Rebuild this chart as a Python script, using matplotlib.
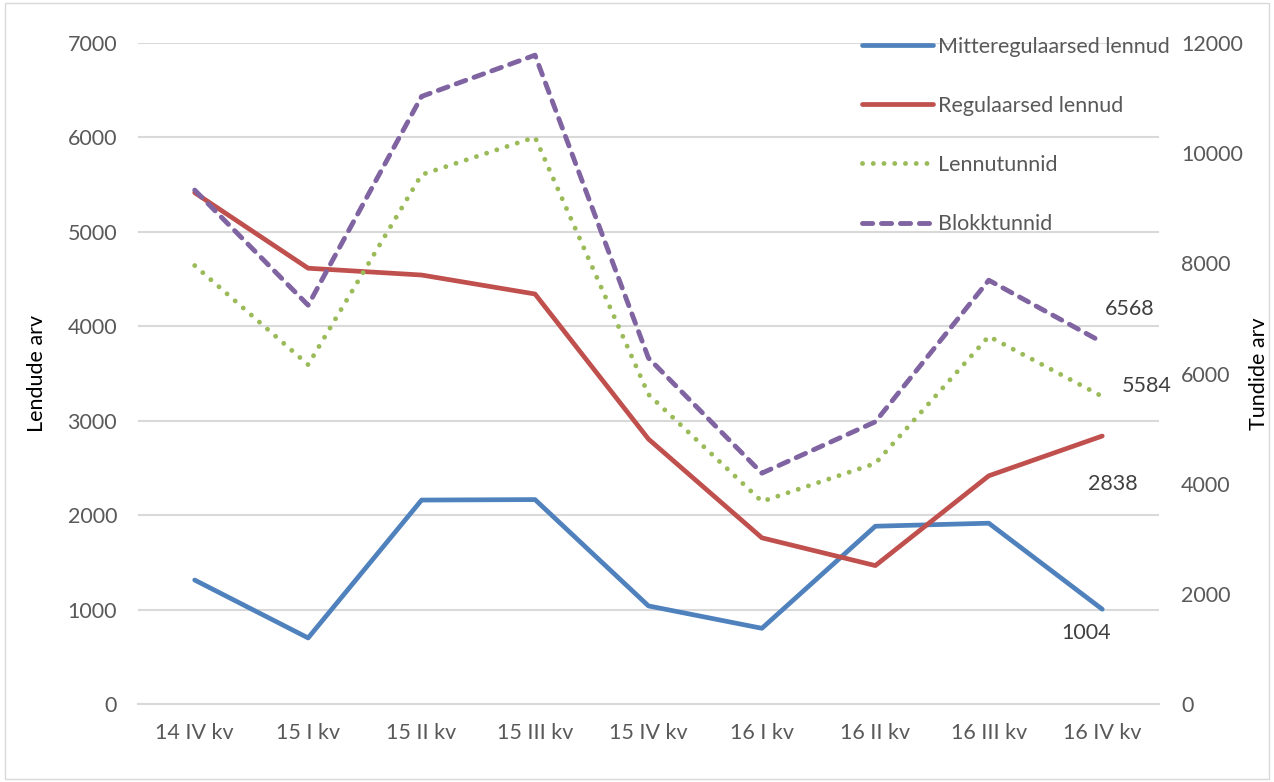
import matplotlib.pyplot as plt
from matplotlib.patches import Rectangle

plt.rcParams['font.family'] = ['Lato', 'DejaVu Sans']

# Data
quarters = ["14 IV kv", "15 I kv", "15 II kv", "15 III kv", "15 IV kv",
            "16 I kv", "16 II kv", "16 III kv", "16 IV kv"]
mitteregulaarsed = [1313, 700, 2160, 2165, 1039, 802, 1883, 1915, 1004]
regulaarsed = [5415, 4615, 4543, 4342, 2806, 1760, 1466, 2417, 2838]
lennutunnid = [7960, 6160, 9610, 10290, 5620, 3677, 4368, 6675, 5584]
blokktunnid = [9330, 7240, 11030, 11780, 6281, 4191, 5124, 7694, 6568]

label_color = "#595959"
grid_color = "#D9D9D9"
fs = 15.5

fig = plt.figure(figsize=(12.74, 7.82), dpi=100)
ax = fig.add_axes([0.1083, 0.0997, 0.8014, 0.8453])
ax2 = ax.twinx()

x = list(range(len(quarters)))

# Left axis: flight counts
l1, = ax.plot(x, mitteregulaarsed, color="#4F81BD", lw=3.4, solid_capstyle="round",
              label="Mitteregulaarsed lennud")
l2, = ax.plot(x, regulaarsed, color="#C0504D", lw=3.4, solid_capstyle="round",
              label="Regulaarsed lennud")

# Right axis: hours
l3, = ax2.plot(x, lennutunnid, color="#9BBB59", lw=3.5, linestyle=(0, (0.01, 2.2)),
               dash_capstyle="round", label="Lennutunnid")
l4, = ax2.plot(x, blokktunnid, color="#8064A2", lw=3.5, linestyle=(0, (2.1, 1.8)),
               dash_capstyle="round", label="Blokktunnid")

ax.set_xlim(-0.5, len(quarters) - 0.5)
ax.set_ylim(0, 7000)
ax.set_yticks(range(0, 7001, 1000))
ax2.set_ylim(0, 12000)
ax2.set_yticks(range(0, 12001, 2000))

ax.set_xticks(x)
ax.set_xticklabels(quarters)

ax.grid(axis="y", color=grid_color, lw=1.5)
ax.set_axisbelow(True)
for a in (ax, ax2):
    for s in a.spines.values():
        s.set_visible(False)
    a.tick_params(length=0, labelsize=fs, labelcolor=label_color)
ax.spines["bottom"].set_visible(True)
ax.spines["bottom"].set_color(grid_color)
ax.spines["bottom"].set_linewidth(1.5)
ax.tick_params(axis="x", pad=14)
ax.tick_params(axis="y", pad=15)
ax2.tick_params(axis="y", pad=16)

ax.set_ylabel("Lendude arv", fontsize=fs, color="black")
ax2.set_ylabel("Tundide arv", fontsize=fs, color="black")
ax.yaxis.set_label_coords(-0.089, 0.5)
ax2.yaxis.set_label_coords(1.088, 0.5)

# Data labels on the last point
last = len(quarters) - 1
lab_kw = dict(textcoords="offset pixels", fontsize=fs, color="#404040",
              ha="center", va="center")
ax2.annotate(f"{blokktunnid[-1]}", (last, blokktunnid[-1]), xytext=(27, 33), **lab_kw)
ax2.annotate(f"{lennutunnid[-1]}", (last, lennutunnid[-1]), xytext=(44, 10), **lab_kw)
ax.annotate(f"{regulaarsed[-1]}", (last, regulaarsed[-1]), xytext=(11, -48), **lab_kw)
ax.annotate(f"{mitteregulaarsed[-1]}", (last, mitteregulaarsed[-1]), xytext=(-16, -24), **lab_kw)

leg = ax2.legend(handles=[l1, l2, l3, l4], loc="upper left",
                 bbox_to_anchor=(853 / 1274, 1 - 28 / 782), bbox_transform=fig.transFigure,
                 frameon=False, fontsize=fs, handlelength=3.3, handletextpad=0.25,
                 labelspacing=1.82, borderaxespad=0)
for t in leg.get_texts():
    t.set_color(label_color)

# Chart area border
fig.patches.append(Rectangle((0.004, 0.004), 0.992, 0.992, transform=fig.transFigure,
                             fill=False, edgecolor="#D9D9D9", lw=1))

fig.savefig("out.png", dpi=100)
